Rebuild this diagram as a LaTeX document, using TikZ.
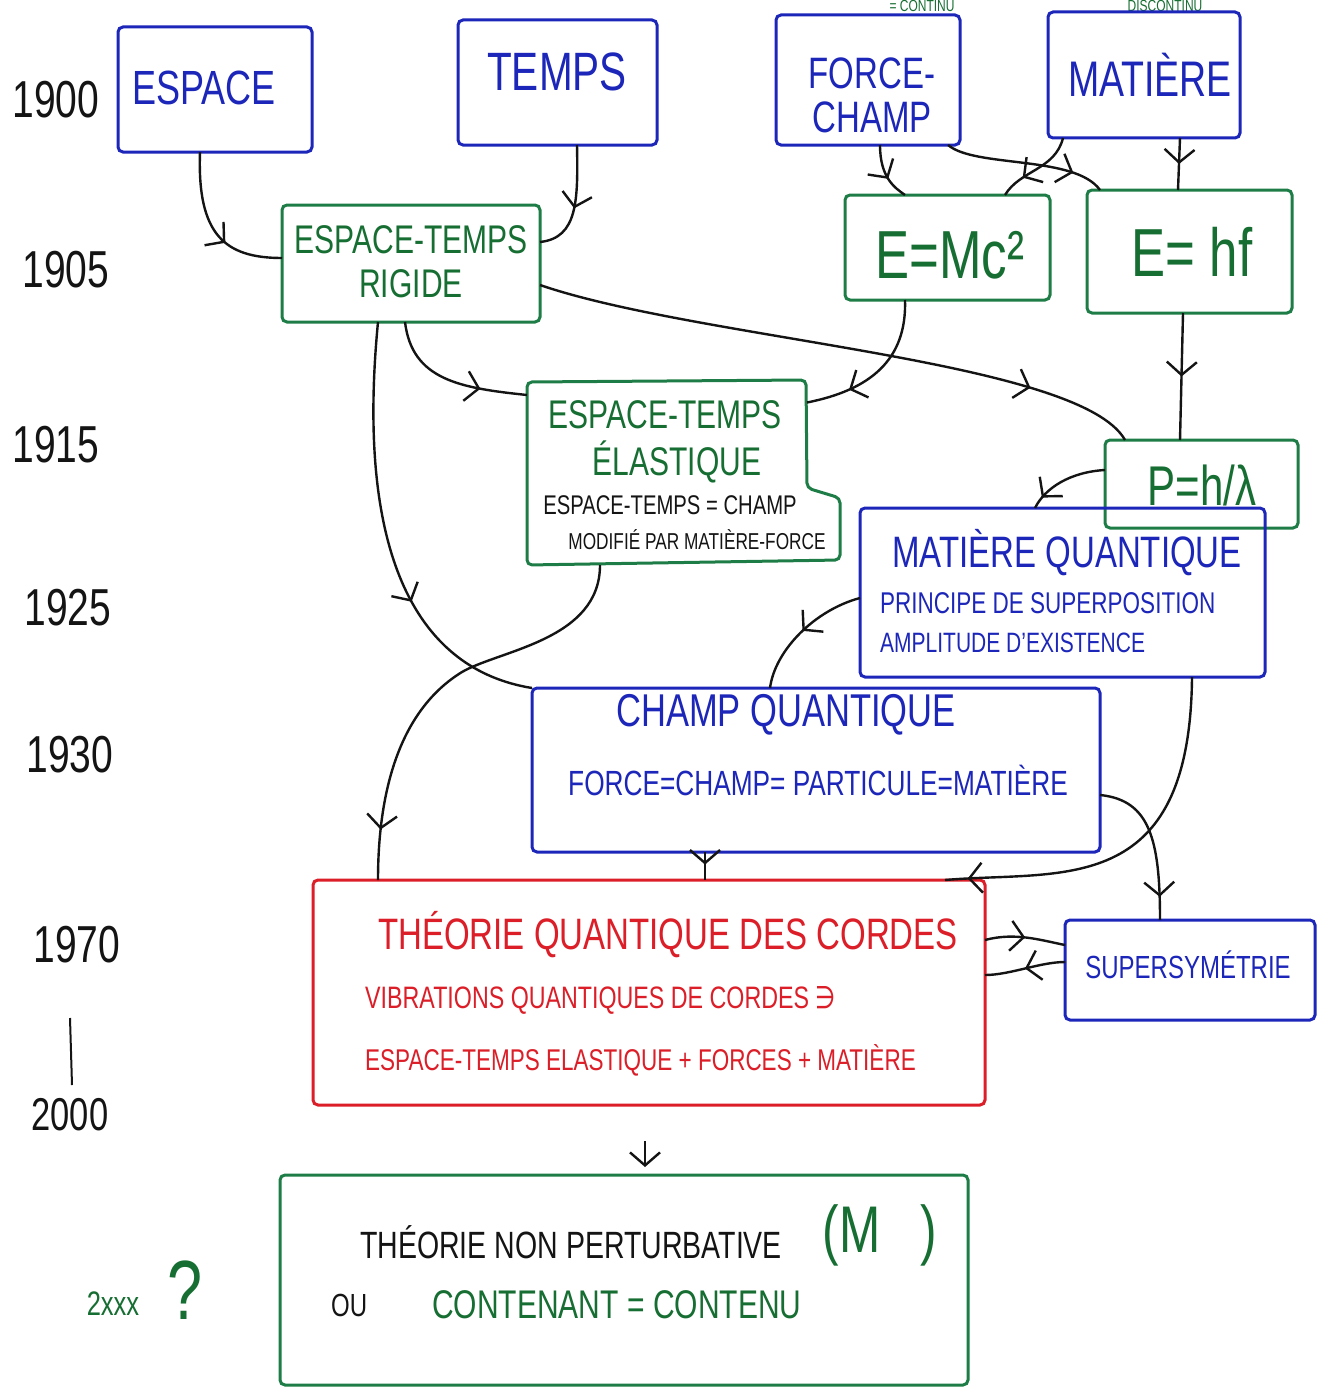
\documentclass[tikz,border=0pt]{standalone}
\usepackage{fontspec}
\setmainfont{Liberation Sans}
\newfontfamily\hand{Liberation Sans}[FakeStretch=0.75]
\newfontfamily\symf{DejaVu Sans}[FakeStretch=0.75]
\usetikzlibrary{arrows.meta,decorations.markings,fit,calc}
\definecolor{inkblue}{RGB}{28,38,185}
\definecolor{inkgreen}{RGB}{22,110,50}
\definecolor{boxgreen}{RGB}{30,125,70}
\definecolor{inkred}{RGB}{220,30,40}
\definecolor{inkblack}{RGB}{20,20,20}
\begin{document}
\begin{tikzpicture}[x=1pt,y=-1pt,
  >={Straight Barb[length=13pt,width=30pt,line width=2.4pt]},
  box/.style={draw, line width=3pt, rounded corners=5pt, inner sep=0pt, outer sep=0pt},
  bb/.style={box, draw=inkblue},
  bg/.style={box, draw=boxgreen},
  br/.style={box, draw=inkred},
  lbl/.style={inner sep=0pt, align=center, font=\hand\fontsize{#1}{#1}\selectfont},
  conn/.style={draw=inkblack, line width=2.4pt},
  midarr/.style={postaction={decorate}, decoration={markings, mark=at position #1 with {\arrow{>}}}},
]
\useasboundingbox (0,0) rectangle (1318,1394);
\fill[white] (0,0) rectangle (1318,1394);
\clip (0,0) rectangle (1318,1394);

% years
\node[lbl=52, text=inkblack] (y1900) at (56,100) {1900};
\node[lbl=52, text=inkblack] (y1905) at (66,270) {1905};
\node[lbl=52, text=inkblack] (y1915) at (56,445) {1915};
\node[lbl=52, text=inkblack] (y1925) at (68,608) {1925};
\node[lbl=52, text=inkblack] (y1930) at (70,755) {1930};
\node[lbl=52, text=inkblack] (y1970) at (77,945) {1970};
\coordinate (ytop) at (70,1018);
\coordinate (ybot) at (72,1085);
\draw[inkblack, line width=2pt] (ytop) -- (ybot);
\node[lbl=46, text=inkblack] (y2000) at (70,1115) {2000};
\node[lbl=34, text=inkgreen] (y2xxx) at (113,1304) {2xxx};
\node[lbl=84, text=inkgreen] (qmark) at (185,1290) {?};

% top notes
\node[lbl=16, text=inkgreen] (cont) at (922,6) {= CONTINU};
\node[lbl=16, text=inkgreen] (discont) at (1165,6) {DISCONTINU};

% boxes
\node[bb, fit={(118,27) (312,152)}] (espace) {};
\node[bb, fit={(458,20) (657,145)}] (temps) {};
\node[bb, fit={(776,15) (960,145)}] (force) {};
\node[bb, fit={(1048,12) (1240,138)}] (matiere) {};
\node[bg, fit={(282,205) (540,322)}] (rigide) {};
\node[bg, fit={(845,195) (1050,300)}] (emc) {};
\node[bg, fit={(1087,190) (1292,313)}] (ehf) {};
\node[inner sep=0pt, outer sep=0pt, fit={(527,380) (840,565)}] (elast) {};
\draw[boxgreen, line width=3pt, rounded corners=5pt] (527,382) -- (806,380) -- (807,488) -- (840,498) -- (840,560) -- (527,565) -- cycle;
\node[bg, fit={(1105,440) (1298,528)}] (plam) {};
\node[bb, fit={(860,508) (1265,677)}] (matq) {};
\node[bb, fit={(532,688) (1100,852)}] (champq) {};
\node[br, fit={(313,880) (985,1105)}] (theorie) {};
\node[bb, fit={(1065,920) (1315,1020)}] (susy) {};
\node[bg, fit={(280,1175) (968,1385)}] (nonpert) {};

% labels
\node[lbl=48, text=inkblue] (tespace) at (204,88) {ESPACE};
\node[lbl=54, text=inkblue] (ttemps) at (557,72) {TEMPS};
\node[lbl=44, text=inkblue] (tforce) at (872,95) {FORCE-\\CHAMP};
\node[lbl=50, text=inkblue] (tmatiere) at (1150,75) {MATIÈRE};
\node[lbl=40, text=inkgreen] (trigide) at (411,262) {ESPACE-TEMPS\\[4pt]RIGIDE};
\node[lbl=68, text=inkgreen] (temc) at (950,255) {E=Mc²};
\node[lbl=68, text=inkgreen] (tehf) at (1192,252) {E= hf};
\node[lbl=40, text=inkgreen] (telast1) at (665,415) {ESPACE-TEMPS};
\node[lbl=40, text=inkgreen] (telast2) at (677,462) {ÉLASTIQUE};
\node[lbl=27, text=inkblack] (telast3) at (670,505) {ESPACE-TEMPS = CHAMP};
\node[lbl=23, text=inkblack] (telast4) at (697,540) {MODIFIÉ PAR MATIÈRE-FORCE};
\node[lbl=56, text=inkgreen] (tplam) at (1202,485) {P=h/λ};
\node[lbl=44, text=inkblue] (tmatq1) at (1067,553) {MATIÈRE QUANTIQUE};
\node[lbl=30, text=inkblue, anchor=west] (tmatq2) at (880,603) {PRINCIPE DE SUPERPOSITION};
\node[lbl=28, text=inkblue, anchor=west] (tmatq3) at (880,643) {AMPLITUDE D’EXISTENCE};
\node[lbl=46, text=inkblue] (tchampq1) at (786,715) {CHAMP QUANTIQUE};
\node[lbl=35, text=inkblue] (tchampq2) at (818,780) {FORCE=CHAMP= PARTICULE=MATIÈRE};
\node[lbl=44, text=inkred] (ttheo1) at (668,935) {THÉORIE QUANTIQUE DES CORDES};
\node[lbl=31, text=inkred, anchor=west] (ttheo2) at (365,1000) {VIBRATIONS QUANTIQUES DE CORDES {\symf ∋}};
\node[lbl=30, text=inkred, anchor=west] (ttheo3) at (365,1060) {ESPACE-TEMPS ELASTIQUE + FORCES + MATIÈRE};
\node[lbl=32, text=inkblue] (tsusy) at (1188,965) {SUPERSYMÉTRIE};
\node[lbl=38, text=inkblack, anchor=west] (tnp1) at (360,1242) {THÉORIE NON PERTURBATIVE};
\node[lbl=66, text=inkgreen] (tnpm) at (880,1235) {(M\hspace{40pt})};
\node[lbl=32, text=inkblack, anchor=west] (tnpou) at (331,1305) {OU};
\node[lbl=40, text=inkgreen, anchor=west] (tnp2) at (432,1305) {CONTENANT = CONTENU};

% connectors
\draw[conn, midarr=0.62] ([xshift=-15pt]espace.south) .. controls (197,235) and (225,258) .. ([yshift=5.5pt]rigide.west);
\draw[conn, midarr=0.55] ([xshift=19.5pt]temps.south) .. controls (578,200) and (578,238) .. ([yshift=21.5pt]rigide.east);
\draw[conn, midarr=0.6] ([xshift=12pt]force.south) .. controls (880,178) and (895,188) .. ([xshift=-42.5pt]emc.north);
\draw[conn, midarr=0.8] ([xshift=80pt]force.south) .. controls (975,168) and (1075,155) .. ([xshift=-89.5pt]ehf.north);
\draw[conn, midarr=0.7] ([xshift=-81pt]matiere.south) .. controls (1055,170) and (1020,170) .. ([xshift=57.5pt]emc.north);
\draw[conn, midarr=0.5] ([xshift=36pt]matiere.south) -- ([xshift=-11.5pt]ehf.north);
\draw[conn, midarr=0.82] ([yshift=-21.5pt]rigide.east) .. controls (700,340) and (1080,360) .. ([xshift=-76.5pt]plam.north);
\draw[conn, midarr=0.7] ([xshift=-6pt]rigide.south) .. controls (412,380) and (460,388) .. ([yshift=77.5pt]elast.west);
\draw[conn, midarr=0.72] ([xshift=-42.5pt]emc.south) .. controls (907,360) and (870,390) .. ([xshift=-33pt,yshift=70pt]elast.east);
\draw[conn, midarr=0.5] ([xshift=-6.5pt]ehf.south) -- ([xshift=-21.5pt]plam.north);
\draw[conn, midarr=0.85] ([yshift=14pt]plam.west) .. controls (1070,472) and (1045,488) .. ([xshift=-27.5pt]matq.north);
\draw[conn, midarr=0.65] ([xshift=-33pt]rigide.south) .. controls (355,560) and (420,670) .. (champq.north west);
\draw[conn, midarr=0.88] ([xshift=-83.5pt]elast.south) .. controls (600,640) and (500,650) .. (462,672) .. controls (400,710) and (378,790) .. ([xshift=-271pt]theorie.north);
\draw[conn, midarr=0.5] ([yshift=-5.5pt]matq.west) .. controls (815,610) and (775,650) .. ([xshift=-46pt]champq.north);
\draw[conn, midarr=0.45] ([xshift=-111pt]champq.south) -- ([xshift=56pt]theorie.north);
\draw[conn, midarr=0.94] ([xshift=129.5pt]matq.south) .. controls (1190,900) and (1060,870) .. ([xshift=296pt]theorie.north);
\draw[conn, midarr=0.85] ([yshift=-25pt]champq.east) .. controls (1150,800) and (1160,840) .. ([xshift=-30pt]susy.north);
\draw[conn, midarr=0.5] ([yshift=52.5pt]theorie.east) .. controls (1015,932) and (1040,940) .. ([yshift=25pt]susy.west);
\draw[conn, midarr=0.5] ([yshift=8pt]susy.west) .. controls (1040,962) and (1010,975) .. ([yshift=17.5pt]theorie.east);
\draw[conn, ->, shorten <=36pt, shorten >=8pt] ([xshift=-4pt]theorie.south) -- ([xshift=21pt]nonpert.north);
\end{tikzpicture}
\end{document}
